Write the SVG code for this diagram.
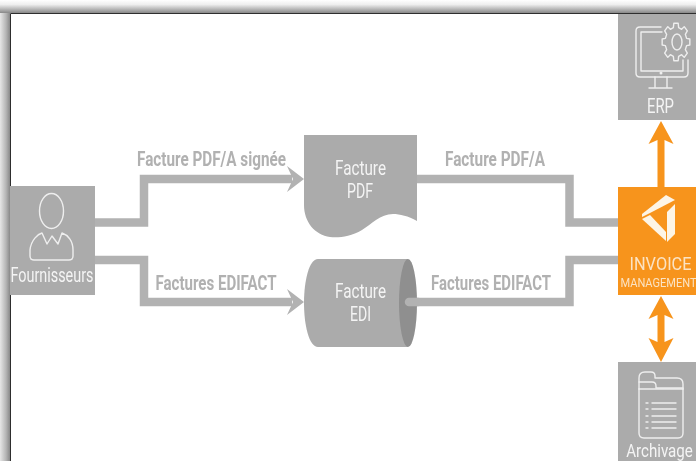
<svg xmlns="http://www.w3.org/2000/svg" width="696" height="461" viewBox="0 0 696 461">
<style>
text{font-family:Roboto,"Liberation Sans",sans-serif;text-anchor:middle}
.lbl{fill:#b1b1b1;font-size:19.500px;font-weight:700}
.wt{fill:#f4f4f4;font-size:19.500px;font-weight:400}
.or-t{fill:#fbe3c3;font-weight:400}
.box{fill:#ababab}
.line{fill:none;stroke:#b2b2b2;stroke-width:8.5}
.head{fill:#b2b2b2}
.or{fill:#f7941d}
.ic{fill:none;stroke:#eeeeee;stroke-width:1.4;stroke-linejoin:round;stroke-linecap:round}
</style>
<defs>
<linearGradient id="top" x1="0" y1="0" x2="0" y2="1"><stop offset="0" stop-color="#fff"/><stop offset=".35" stop-color="#eee"/><stop offset="1" stop-color="#888"/></linearGradient>
<linearGradient id="left" x1="0" y1="0" x2="1" y2="0"><stop offset="0" stop-color="#e6e6e6"/><stop offset=".6" stop-color="#b5b5b5"/><stop offset="1" stop-color="#888"/></linearGradient>
<filter id="soft" x="-2%" y="-2%" width="104%" height="104%"><feGaussianBlur stdDeviation="0.5"/></filter>
</defs>
<rect width="696" height="461" fill="#fff"/>
<rect x="0" y="0" width="696" height="13" fill="url(#top)"/>
<rect x="0" y="13" width="10" height="448" fill="url(#left)"/>
<path d="M10.5 461V13.5H696" fill="none" stroke="#2e2e2e" stroke-width="1"/>
<g filter="url(#soft)">
<g id="connectors">
<path class="line" d="M95 222.500H144V179H292"/>
<path class="head" d="M287 166L304 179L287 192L293 179Z"/>
<path class="line" d="M95 260H144V302H292"/>
<path class="head" d="M287 289L304 302L287 315L293 302Z"/>
<path class="line" d="M417 179H569.500V222.500H618"/>
<path class="line" d="M408 302H569.500V260H618" stroke-linecap="round"/>
<path class="or" d="M661 121L673.500 144L664.500 140V187H657.500V140L648.500 144Z"/>
<path class="or" d="M661 296L673.500 319L664.500 315V342L673.500 338L661 362L648.500 338L657.500 342V315L648.500 319Z"/>
</g>
<g id="fournisseurs">
<rect class="box" x="10" y="186" width="85" height="109"/>
<ellipse class="ic" cx="51.500" cy="211" rx="12" ry="17.500"/>
<path class="ic" d="M30 250C31 240 38 234 42 233L47 244L52 236L58 244L62 233C68 235 73 241 73 250V256Q73 260 69 260H34Q30 260 30 256Z"/>
<text class="wt" x="52" y="282" textLength="83" lengthAdjust="spacingAndGlyphs">Fournisseurs</text>
</g>
<g id="facture-pdf">
<path class="box" d="M304 135H417V221C408 216 400 214 393 214C380 214 372 224 362 230C350 237 338 238 330 237C315 235 304 222 304 205Z"/>
<text class="wt" x="360.500" y="175" textLength="51" lengthAdjust="spacingAndGlyphs">Facture</text>
<text class="wt" x="360" y="198" textLength="26" lengthAdjust="spacingAndGlyphs">PDF</text>
</g>
<g id="facture-edi">
<path class="box" d="M318 259H408V347H318C309 347 304 325 304 303C304 281 309 259 318 259Z"/>
<ellipse cx="408" cy="303" rx="9" ry="44" fill="#8f8f8f"/>
<path d="M409 302H418" stroke="#b2b2b2" stroke-width="8.500" stroke-linecap="round"/>
<text class="wt" x="360.500" y="298" textLength="51" lengthAdjust="spacingAndGlyphs">Facture</text>
<text class="wt" x="360.500" y="321" textLength="21" lengthAdjust="spacingAndGlyphs">EDI</text>
</g>
<g id="labels">
<text class="lbl" x="211.500" y="166" textLength="149" lengthAdjust="spacingAndGlyphs">Facture PDF/A signée</text>
<text class="lbl" x="216" y="290" textLength="121" lengthAdjust="spacingAndGlyphs">Factures EDIFACT</text>
<text class="lbl" x="495" y="166" textLength="100" lengthAdjust="spacingAndGlyphs">Facture PDF/A</text>
<text class="lbl" x="491" y="290" textLength="120" lengthAdjust="spacingAndGlyphs">Factures EDIFACT</text>
</g>
<g id="erp">
<rect class="box" x="618" y="14" width="78" height="106"/>
<path class="ic" d="M661 27H640Q636 27 636 31V73Q636 77 640 77H684Q688 77 688 73V60M662 32H641V71H683V60"/>
<circle cx="661" cy="73" r="1.500" fill="#eee"/>
<path class="ic" d="M655 77V87M667 77V87M649 88H672"/>
<path class="ic" vector-effect="non-scaling-stroke" transform="translate(676,42) scale(14,19)" d="M.757-.189L.988-.156L.988.156L.757.189L.668.402L.809.588L.588.809L.402.668L.189.757L.156.988L-.156.988L-.189.757L-.402.668L-.588.809L-.809.588L-.668.402L-.757.189L-.988.156L-.988-.156L-.757-.189L-.668-.402L-.809-.588L-.588-.809L-.402-.668L-.189-.757L-.156-.988L.156-.988L.189-.757L.402-.668L.588-.809L.809-.588L.668-.402Z"/>
<ellipse class="ic" cx="677" cy="42" rx="5" ry="8"/>
<text class="wt" x="660.500" y="113" textLength="27" lengthAdjust="spacingAndGlyphs">ERP</text>
</g>
<g id="invoice-management">
<rect class="or" x="618" y="187" width="78" height="108"/>
<path fill="#fdf5e6" d="M666 195L675 200L650 213L642 217L642 214Z"/>
<path fill="#fdf5e6" d="M675 204V234L667 242V212Z"/>
<path fill="#fdf5e6" d="M642 219L650 215L666 232V241Z"/>
<text class="or-t" transform="translate(660.500,270) scale(.86,1)" style="font-size:19px">INVOICE</text>
<text class="or-t" transform="translate(658.500,287) scale(.82,1)" style="font-size:13.500px">MANAGEMENT</text>
</g>
<g id="archivage">
<rect class="box" x="618" y="362" width="78" height="99"/>
<path class="ic" d="M639 389V378Q639 372 645 372H651Q655 372 655 376V378H677Q683 378 683 384V389"/>
<path class="ic" d="M639 382H652Q656 382 656 386V388H683"/>
<path class="ic" d="M639 389V433Q639 438 644 438H678Q683 438 683 433V389"/>
<path class="ic" d="M639 389H683"/>
<path class="ic" stroke-width="2" d="M652 403H676M652 409H676M652 416H676M652 422H676M652 428H676"/>
<path class="ic" d="M646 403H648M646 409H648M646 416H648M646 422H648M646 428H648"/>
<text class="wt" transform="translate(659.500,457) scale(.84,1)" style="font-size:18px">Archivage</text>
</g>
</g>
</svg>
